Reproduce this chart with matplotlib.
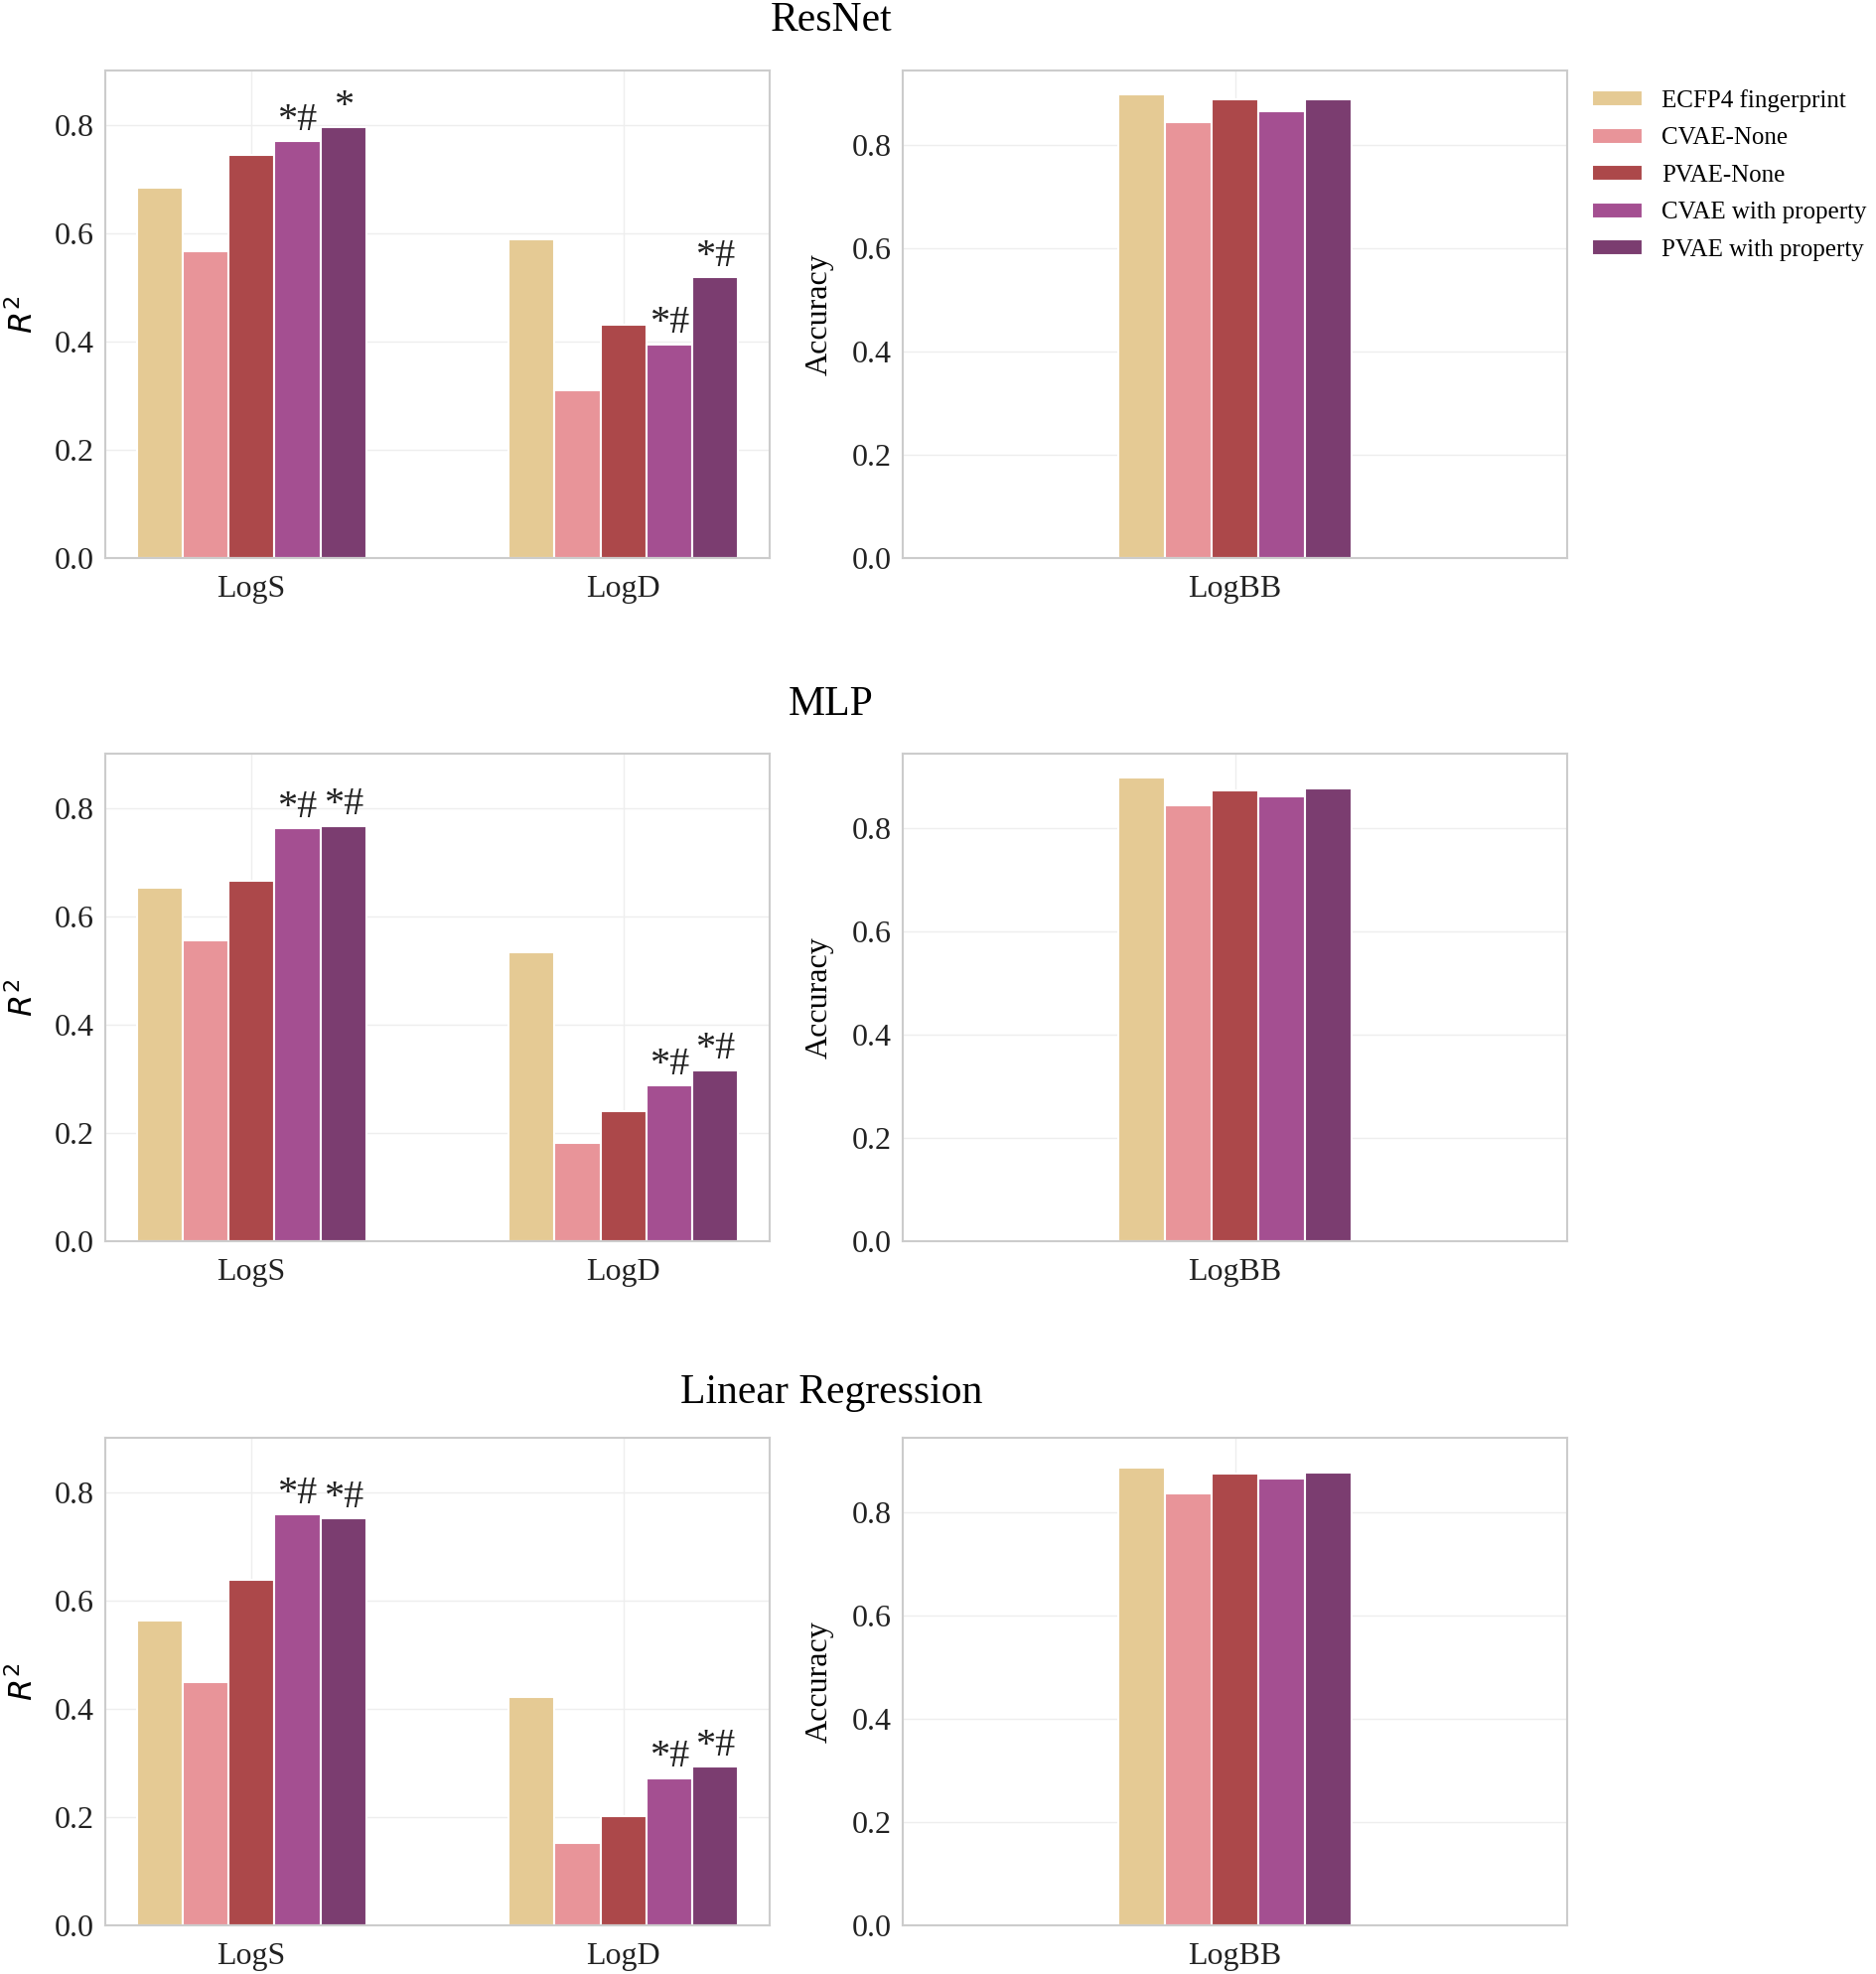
import matplotlib
matplotlib.use("Agg")
import matplotlib.pyplot as plt
import numpy as np

plt.rcParams['font.family'] = ['Liberation Serif', 'DejaVu Serif']
plt.rcParams['mathtext.fontset'] = 'dejavusans'

series = ["ECFP4 fingerprint", "CVAE-None", "PVAE-None", "CVAE with property", "PVAE with property"]
colors = ["#E5CA94", "#E89499", "#AC484A", "#A44F91", "#7B3D70"]

models = ["ResNet", "MLP", "Linear Regression"]
reg_tasks = ["LogS", "LogD"]
cls_tasks = ["LogBB"]

resnet_logs = [0.684, 0.567, 0.744, 0.770, 0.795]
resnet_logd = [0.588, 0.309, 0.430, 0.395, 0.519]
resnet_logbb = [0.898, 0.844, 0.888, 0.866, 0.888]
mlp_logs = [0.653, 0.556, 0.665, 0.763, 0.767]
mlp_logd = [0.533, 0.181, 0.240, 0.288, 0.316]
mlp_logbb = [0.898, 0.844, 0.873, 0.861, 0.876]
lr_logs = [0.563, 0.449, 0.637, 0.758, 0.751]
lr_logd = [0.421, 0.153, 0.202, 0.272, 0.293]
lr_logbb = [0.887, 0.836, 0.874, 0.865, 0.877]

resnet_logs_marks = ["", "", "", "*#", "*"]
resnet_logd_marks = ["", "", "", "*#", "*#"]
mlp_logs_marks = ["", "", "", "*#", "*#"]
mlp_logd_marks = ["", "", "", "*#", "*#"]
lr_logs_marks = ["", "", "", "*#", "*#"]
lr_logd_marks = ["", "", "", "*#", "*#"]

reg_data = [
    (resnet_logs, resnet_logd, resnet_logs_marks, resnet_logd_marks),
    (mlp_logs, mlp_logd, mlp_logs_marks, mlp_logd_marks),
    (lr_logs, lr_logd, lr_logs_marks, lr_logd_marks),
]
cls_data = [resnet_logbb, mlp_logbb, lr_logbb]

W, H = 1889, 1988
fig = plt.figure(figsize=(W / 100, H / 100), dpi=100)

row_bottoms = [1 - 562 / H, 1 - 1250 / H, 1 - 1939 / H]
row_h = 491 / H
lx, rx, aw = 106 / W, 909 / W, 669 / W
title_y = [1 - 21 / H, 1 - 710 / H, 1 - 1403 / H]

spine_c = "#CCCCCC"
grid_c = "#EEEEEE"
tick_fs = 23


def style(ax):
    for s in ax.spines.values():
        s.set_color(spine_c)
        s.set_linewidth(1.5)
    ax.grid(True, color=grid_c, linewidth=1.0)
    ax.set_axisbelow(True)
    ax.tick_params(length=0, labelsize=tick_fs, colors="#222222", pad=8)
    ax.tick_params(axis="x", pad=12)
    ax.set_yticks([0.0, 0.2, 0.4, 0.6, 0.8])
    ax.set_yticklabels(["0.0", "0.2", "0.4", "0.6", "0.8"])


for r in range(3):
    logs, logd, ms, md = reg_data[r]
    axL = fig.add_axes([lx, row_bottoms[r], aw, row_h])
    axR = fig.add_axes([rx, row_bottoms[r], aw, row_h])
    style(axL)
    style(axR)
    # left regression panel
    bw = 0.1234
    xs = np.arange(len(reg_tasks))
    for i in range(len(series)):
        vals = [logs[i], logd[i]]
        pos = xs + (i - 2) * bw
        axL.bar(pos, vals, width=bw, color=colors[i], edgecolor="white",
                linewidth=1.5, label=series[i] if r == 0 else None)
        for p, v, m in zip(pos, vals, [ms[i], md[i]]):
            if m:
                axL.text(p, v + 0.004, m, ha="center", va="bottom", fontsize=29,
                         color="#222222")
    axL.set_xticks(xs)
    axL.set_xticklabels(reg_tasks)
    axL.set_xlim(-0.393, 1.393)
    axL.set_ylim(0, 0.9)
    axL.set_ylabel("$R^2$", fontsize=23, labelpad=11)
    # right classification panel
    bw2 = 0.0705
    vals = cls_data[r]
    for i in range(len(series)):
        axR.bar([0 + (i - 2) * bw2], [vals[i]], width=bw2, color=colors[i],
                edgecolor="white", linewidth=1.5)
    axR.set_xticks([0])
    axR.set_xticklabels(cls_tasks)
    axR.set_xlim(-0.5, 0.5)
    axR.set_ylim(0, 0.944)
    axR.set_ylabel("Accuracy", fontsize=23, labelpad=13)
    fig.text(837 / W, title_y[r], models[r], ha="center", va="center", fontsize=30)
    if r == 0:
        handles, labels = axL.get_legend_handles_labels()
        fig.legend(handles, labels, loc="upper left",
                   bbox_to_anchor=(1603 / W, 1 - 90 / H), frameon=False,
                   fontsize=18, handlelength=2.05, handleheight=0.6,
                   handletextpad=0.75, labelspacing=0.62, borderpad=0,
                   borderaxespad=0)

fig.savefig("out.png", dpi=100, facecolor="white")
